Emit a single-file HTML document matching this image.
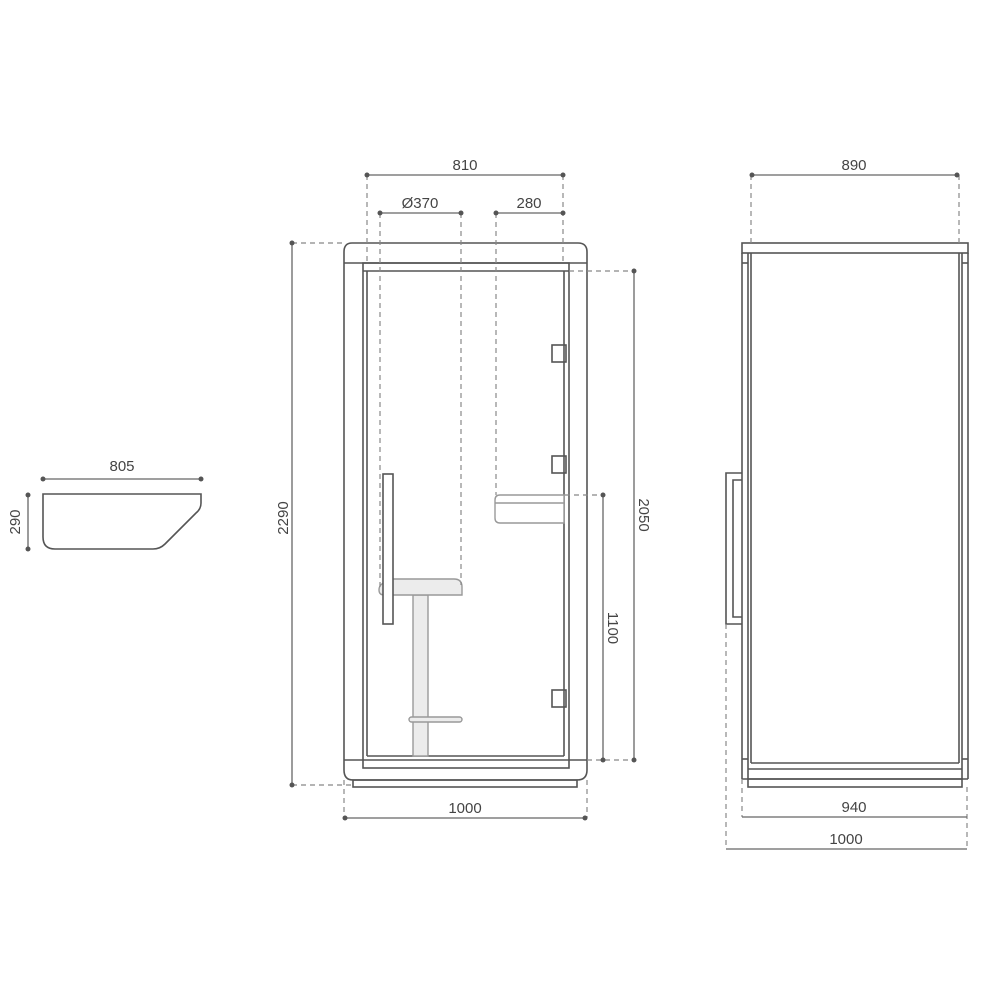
<!DOCTYPE html>
<html><head><meta charset="utf-8"><style>
html,body{margin:0;padding:0;background:#fff;}
svg text{font-family:"Liberation Sans",sans-serif;font-size:15px;fill:#444;text-anchor:middle;}
</style></head><body>
<svg width="1000" height="1000" viewBox="0 0 1000 1000" xmlns="http://www.w3.org/2000/svg">
<g fill="none" stroke="#555" stroke-width="1.6">
<!-- small shelf -->
<path d="M43 494 H201 V503 Q201 509 196 513 L165 544 Q160 549 153 549 H55 Q43 549 43 537 Z"/>
<!-- front view -->
<path d="M352 243 H578 Q587 243 587 252 V770 Q587 780 577 780 H353 Q344 780 344 770 V252 Q344 243 352 243 Z"/>
<line x1="344" y1="263" x2="587" y2="263"/>
<line x1="344" y1="760" x2="587" y2="760"/>
<rect x="363" y="263" width="206" height="505"/>
<line x1="363" y1="271" x2="569" y2="271"/>
<line x1="367" y1="271" x2="367" y2="756"/>
<line x1="564" y1="271" x2="564" y2="756"/>
<line x1="367" y1="756" x2="564" y2="756"/>
<rect x="353" y="780" width="224" height="7"/>
<rect x="552" y="345" width="14" height="17"/>
<rect x="552" y="456" width="14" height="17"/>
<rect x="552" y="690" width="14" height="17"/>
<!-- side view -->
<rect x="742" y="243" width="226" height="10"/>
<line x1="742" y1="253" x2="742" y2="779"/>
<line x1="968" y1="253" x2="968" y2="779"/>
<line x1="742" y1="263" x2="748" y2="263"/>
<line x1="962" y1="263" x2="968" y2="263"/>
<line x1="742" y1="759" x2="748" y2="759"/>
<line x1="962" y1="759" x2="968" y2="759"/>
<line x1="742" y1="779" x2="968" y2="779"/>
<line x1="748" y1="253" x2="748" y2="779"/>
<line x1="962" y1="253" x2="962" y2="779"/>
<line x1="751" y1="253" x2="751" y2="763"/>
<line x1="959" y1="253" x2="959" y2="763"/>
<line x1="751" y1="763" x2="959" y2="763"/>
<line x1="748" y1="769" x2="962" y2="769"/>
<rect x="748" y="779" width="214" height="8"/>
<path d="M742 473 H726 V624 H742"/>
<path d="M742 480 H733 V617 H742"/>
</g>
<!-- stool, shelf, handle -->
<g stroke="#999" stroke-width="1.4" fill="#ececec">
<rect x="413" y="595" width="15" height="161"/>
<rect x="409" y="717" width="53" height="5" rx="2.5"/>
<path d="M392 579 H454 Q462 579 462 587 V595 H384 Q379 595 379 590 Q379 584 386 582 Z"/>
<path d="M500 495 H564 V523 H500 Q495 523 495 518 V500 Q495 495 500 495 Z" fill="#fff"/>
<line x1="495" y1="503" x2="564" y2="503"/>
</g>
<rect x="383" y="474" width="10" height="150" fill="#fff" stroke="#555" stroke-width="1.6"/>
<!-- dashed extension lines -->
<g stroke="#888" stroke-width="1.2" stroke-dasharray="5,4" fill="none">
<line x1="367" y1="175" x2="367" y2="263"/>
<line x1="563" y1="175" x2="563" y2="263"/>
<line x1="380" y1="213" x2="380" y2="590"/>
<line x1="461" y1="213" x2="461" y2="585"/>
<line x1="496" y1="213" x2="496" y2="495"/>
<line x1="292" y1="243" x2="344" y2="243"/>
<line x1="292" y1="785" x2="353" y2="785"/>
<line x1="569" y1="271" x2="634" y2="271"/>
<line x1="565" y1="495" x2="603" y2="495"/>
<line x1="587" y1="760" x2="634" y2="760"/>
<line x1="344" y1="780" x2="344" y2="818"/>
<line x1="587" y1="780" x2="587" y2="818"/>
<line x1="751" y1="175" x2="751" y2="243"/>
<line x1="959" y1="175" x2="959" y2="243"/>
<line x1="726" y1="624" x2="726" y2="849"/>
<line x1="742" y1="779" x2="742" y2="817"/>
<line x1="967" y1="787" x2="967" y2="849"/>
</g>
<!-- dimension lines -->
<g stroke="#666" stroke-width="1.3">
<line x1="43" y1="479" x2="201" y2="479"/>
<line x1="28" y1="495" x2="28" y2="549"/>
<line x1="367" y1="175" x2="563" y2="175"/>
<line x1="380" y1="213" x2="461" y2="213"/>
<line x1="496" y1="213" x2="563" y2="213"/>
<line x1="292" y1="243" x2="292" y2="785"/>
<line x1="634" y1="271" x2="634" y2="760"/>
<line x1="603" y1="495" x2="603" y2="760"/>
<line x1="344" y1="818" x2="586" y2="818"/>
<line x1="751" y1="175" x2="959" y2="175"/>
<line x1="742" y1="817" x2="967" y2="817"/>
<line x1="726" y1="849" x2="967" y2="849"/>
</g>
<g fill="#555">
<circle cx="43" cy="479" r="2.5"/><circle cx="201" cy="479" r="2.5"/>
<circle cx="28" cy="495" r="2.5"/><circle cx="28" cy="549" r="2.5"/>
<circle cx="367" cy="175" r="2.5"/><circle cx="563" cy="175" r="2.5"/>
<circle cx="380" cy="213" r="2.5"/><circle cx="461" cy="213" r="2.5"/>
<circle cx="496" cy="213" r="2.5"/><circle cx="563" cy="213" r="2.5"/>
<circle cx="292" cy="243" r="2.5"/><circle cx="292" cy="785" r="2.5"/>
<circle cx="634" cy="271" r="2.5"/><circle cx="634" cy="760" r="2.5"/>
<circle cx="603" cy="495" r="2.5"/><circle cx="603" cy="760" r="2.5"/>
<circle cx="345" cy="818" r="2.5"/><circle cx="585" cy="818" r="2.5"/>
<circle cx="752" cy="175" r="2.5"/><circle cx="957" cy="175" r="2.5"/>
</g>
<text x="122" y="471">805</text>
<text transform="translate(20,522) rotate(-90)">290</text>
<text x="465" y="170">810</text>
<text x="420" y="208">Ø370</text>
<text x="529" y="208">280</text>
<text transform="translate(288,518) rotate(-90)">2290</text>
<text transform="translate(639,515) rotate(90)">2050</text>
<text transform="translate(608,628) rotate(90)">1100</text>
<text x="465" y="813">1000</text>
<text x="854" y="170">890</text>
<text x="854" y="812">940</text>
<text x="846" y="844">1000</text>
</svg>
</body></html>
